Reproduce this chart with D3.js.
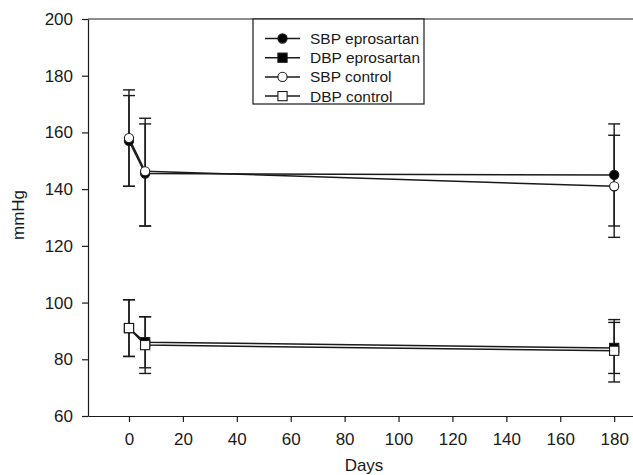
<!DOCTYPE html>
<html><head><meta charset="utf-8">
<script src="https://cdn.jsdelivr.net/npm/d3@7/dist/d3.min.js"></script>
<style>
body{margin:0;background:#fff;}
svg text{font-family:"Liberation Sans",Arial,Helvetica,sans-serif;fill:#1a1a1a;}
</style></head>
<body>
<svg id="c" width="633" height="475"></svg>
<script>
const days = [0, 6, 180];
const xTicks = [0, 20, 40, 60, 80, 100, 120, 140, 160, 180];
const yTicks = [60, 80, 100, 120, 140, 160, 180, 200];

const sbpEpro = [157, 145.5, 145];
const sbpEproHi = [173, 165, 163];
const sbpEproLo = [141, 127, 127];

const dbpEpro = [91, 86, 84];
const dbpEproHi = [101, 95, 93];
const dbpEproLo = [81, 77, 75];

const sbpCtrl = [158, 146.3, 141];
const sbpCtrlHi = [175, 163, 159];
const sbpCtrlLo = [141, 127, 123];

const dbpCtrl = [91, 85, 83];
const dbpCtrlHi = [101, 95, 94];
const dbpCtrlLo = [81, 75, 72];

const seriesNames = ["SBP eprosartan", "DBP eprosartan", "SBP control", "DBP control"];

const series = [
  {name: seriesNames[0], v: sbpEpro, hi: sbpEproHi, lo: sbpEproLo, shape: "circle", fill: "#000"},
  {name: seriesNames[1], v: dbpEpro, hi: dbpEproHi, lo: dbpEproLo, shape: "square", fill: "#000"},
  {name: seriesNames[2], v: sbpCtrl, hi: sbpCtrlHi, lo: sbpCtrlLo, shape: "circle", fill: "#fff"},
  {name: seriesNames[3], v: dbpCtrl, hi: dbpCtrlHi, lo: dbpCtrlLo, shape: "square", fill: "#fff"}
];

const svg = d3.select("#c");
const x = d3.scaleLinear().domain([-15.2, 197]).range([88, 660]);
const y = d3.scaleLinear().domain([60, 200]).range([416, 19]);

// axes
const xa = svg.append("g").attr("transform", "translate(0,416)")
  .call(d3.axisBottom(x).tickValues(xTicks).tickSize(6).tickSizeOuter(0).tickPadding(11));
const ya = svg.append("g").attr("transform", "translate(88,0)")
  .call(d3.axisLeft(y).tickValues(yTicks).tickSize(6).tickSizeOuter(0).tickPadding(9));
[xa, ya].forEach(a => {
  a.selectAll("path,line").attr("stroke", "#1a1a1a").attr("stroke-width", 1.2);
  a.selectAll("text").style("font-size", "17px").attr("fill", "#1a1a1a");
});
// top border
svg.append("line").attr("x1", x.range()[0]).attr("x2", x.range()[1])
  .attr("y1", y(200)).attr("y2", y(200)).attr("stroke", "#1a1a1a").attr("stroke-width", 1.2);

svg.append("text").attr("x", 364).attr("y", 471).attr("text-anchor", "middle")
  .style("font-size", "17px").text("Days");
svg.append("text").attr("transform", "translate(24,215) rotate(-90)").attr("text-anchor", "middle")
  .style("font-size", "17px").text("mmHg");

// error bars
const cap = 6;
series.forEach(s => {
  const g = svg.append("g");
  days.forEach((d, i) => {
    g.append("line").attr("x1", x(d)).attr("x2", x(d)).attr("y1", y(s.hi[i])).attr("y2", y(s.lo[i]))
      .attr("stroke", "#1a1a1a").attr("stroke-width", 1.4);
    [s.hi[i], s.lo[i]].forEach(val => {
      g.append("line").attr("x1", x(d) - cap).attr("x2", x(d) + cap).attr("y1", y(val)).attr("y2", y(val))
        .attr("stroke", "#1a1a1a").attr("stroke-width", 1.4);
    });
  });
});

// lines
const line = d3.line().x((d, i) => x(days[i])).y(d => y(d));
series.forEach(s => {
  svg.append("path").datum(s.v).attr("d", line).attr("fill", "none")
    .attr("stroke", "#1a1a1a").attr("stroke-width", 1.5);
});

function sym(g, shape, cx, cy, fill) {
  if (shape === "circle") {
    g.append("circle").attr("cx", cx).attr("cy", cy).attr("r", 4.6)
      .attr("fill", fill).attr("stroke", "#1a1a1a").attr("stroke-width", 1.1);
  } else {
    g.append("rect").attr("x", cx - 4.6).attr("y", cy - 4.6).attr("width", 9.2).attr("height", 9.2)
      .attr("fill", fill).attr("stroke", "#1a1a1a").attr("stroke-width", 1.1);
  }
}
series.forEach(s => {
  const g = svg.append("g");
  s.v.forEach((v, i) => sym(g, s.shape, x(days[i]), y(v), s.fill));
});

// legend
const lg = svg.append("g");
lg.append("rect").attr("x", 253).attr("y", 19).attr("width", 171).attr("height", 85)
  .attr("fill", "#fff").attr("stroke", "#1a1a1a").attr("stroke-width", 1.2);
series.forEach((s, i) => {
  const yy = 38.5 + i * 19.2;
  lg.append("line").attr("x1", 265).attr("x2", 300).attr("y1", yy).attr("y2", yy)
    .attr("stroke", "#1a1a1a").attr("stroke-width", 1.5);
  sym(lg, s.shape, 282.5, yy, s.fill);
  lg.append("text").attr("x", 310).attr("y", yy + 5.5).style("font-size", "15.5px").text(s.name);
});
</script>
</body></html>
